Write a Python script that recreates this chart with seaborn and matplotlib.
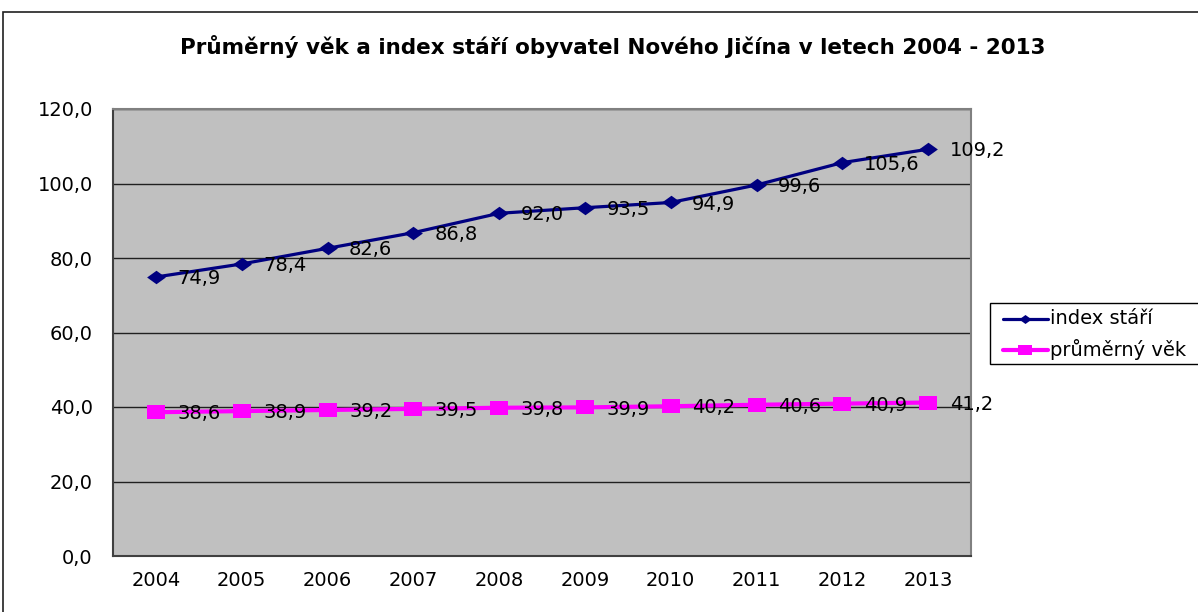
import matplotlib
matplotlib.use("Agg")
import matplotlib.pyplot as plt
import seaborn as sns
import pandas as pd
from matplotlib.patches import Rectangle
from matplotlib.lines import Line2D
from matplotlib.ticker import FixedLocator, NullFormatter

years = [2004, 2005, 2006, 2007, 2008, 2009, 2010, 2011, 2012, 2013]
index_stari = [74.9, 78.4, 82.6, 86.8, 92.0, 93.5, 94.9, 99.6, 105.6, 109.2]
prumerny_vek = [38.6, 38.9, 39.2, 39.5, 39.8, 39.9, 40.2, 40.6, 40.9, 41.2]
series_names = ["index stáří", "průměrný věk"]
y_ticks = [0, 20, 40, 60, 80, 100, 120]
title = "Průměrný věk a index stáří obyvatel Nového Jičína v letech 2004 - 2013"

sns.set_theme(style="white")
plt.rcParams['font.family'] = ['DejaVu Sans']
plt.rcParams['text.color'] = 'black'
plt.rcParams['xtick.color'] = 'black'
plt.rcParams['ytick.color'] = 'black'
plt.rcParams['axes.labelcolor'] = 'black'

df = pd.DataFrame({
    "rok": years * 2,
    "hodnota": index_stari + prumerny_vek,
    "serie": [series_names[0]] * len(years) + [series_names[1]] * len(years),
})

diamond = [(-1, 0), (0, 0.72), (1, 0), (0, -0.72), (-1, 0)]
rect = [(-1, -0.75), (1, -0.75), (1, 0.75), (-1, 0.75), (-1, -0.75)]
colors = {series_names[0]: "#000080", series_names[1]: "#FF00FF"}

fig = plt.figure(figsize=(11.98, 6.12), dpi=100)
W, H = 1198, 612
ax = fig.add_axes([113 / W, 1 - 556 / H, (971 - 113) / W, (556 - 109) / H])
ax.set_facecolor("#C0C0C0")

sns.lineplot(data=df, x="rok", y="hodnota", hue="serie", style="serie",
             palette=colors,
             markers={series_names[0]: diamond, series_names[1]: rect},
             dashes=False, markeredgewidth=0,
             ax=ax, legend=False)
for line, ms, lw in zip(ax.lines, [13.5, 12.5], [2.3, 3.0]):
    line.set_markersize(ms)
    line.set_linewidth(lw)

for vals in (index_stari, prumerny_vek):
    for x, v in zip(years, vals):
        ax.annotate(f"{v:.1f}".replace(".", ","), (x, v), xytext=(15.5, -1.2),
                    textcoords="offset points", ha="left", va="center",
                    fontsize=14, color="black")

ax.set_xlim(years[0] - 0.5, years[-1] + 0.5)
ax.set_ylim(0, 120)
ax.set_yticks(y_ticks)
ax.set_yticklabels([f"{t:.1f}".replace(".", ",") for t in y_ticks], fontsize=14)
ax.set_xticks(years)
ax.set_xticklabels([str(y) for y in years], fontsize=14)
ax.xaxis.set_minor_locator(FixedLocator([y - 0.5 for y in years] + [years[-1] + 0.5]))
ax.xaxis.set_minor_formatter(NullFormatter())
ax.tick_params(axis="x", which="major", length=0, pad=11)
ax.tick_params(axis="x", which="minor", length=5, width=1, color="#404040", direction="out")
ax.tick_params(axis="y", length=5.5, width=1, color="#404040", direction="out", pad=9)
ax.set_xlabel("")
ax.set_ylabel("")
ax.yaxis.grid(True, color="#202020", linewidth=1)
ax.set_axisbelow(True)
for side in ("top", "right"):
    ax.spines[side].set_color("#808080")
    ax.spines[side].set_linewidth(1.5)
for side in ("left", "bottom"):
    ax.spines[side].set_color("#404040")
    ax.spines[side].set_linewidth(1.5)

fig.text(613 / W, 1 - 46 / H, title, ha="center", va="center",
         fontsize=15.5, fontweight="bold", color="black")

# legend box
lx0, ly0, lx1, ly1 = 990, 303, 1205, 364
fig.patches.append(Rectangle((lx0 / W, 1 - ly1 / H), (lx1 - lx0) / W, (ly1 - ly0) / H,
                             transform=fig.transFigure, facecolor="white",
                             edgecolor="black", linewidth=1))
for i, (name, mk, ms, lw) in enumerate(zip(series_names, [diamond, rect], [9, 9.5], [2.3, 3.0])):
    yy = 1 - (319 + i * 31) / H
    col = colors[name]
    fig.lines.append(Line2D([1003 / W, 1048 / W], [yy, yy], transform=fig.transFigure,
                            color=col, linewidth=lw))
    fig.lines.append(Line2D([1025 / W], [yy], transform=fig.transFigure,
                            marker=mk, markersize=ms, color=col,
                            markeredgewidth=0, linestyle="none"))
    fig.text(1050 / W, yy, name, ha="left", va="center", fontsize=14)

# outer chart border
fig.patches.append(Rectangle((3 / W, -0.05), 1.1, 1 - 12 / H + 0.05,
                             transform=fig.transFigure, facecolor="none",
                             edgecolor="#202020", linewidth=1.2))

fig.savefig("out.png", dpi=100)
